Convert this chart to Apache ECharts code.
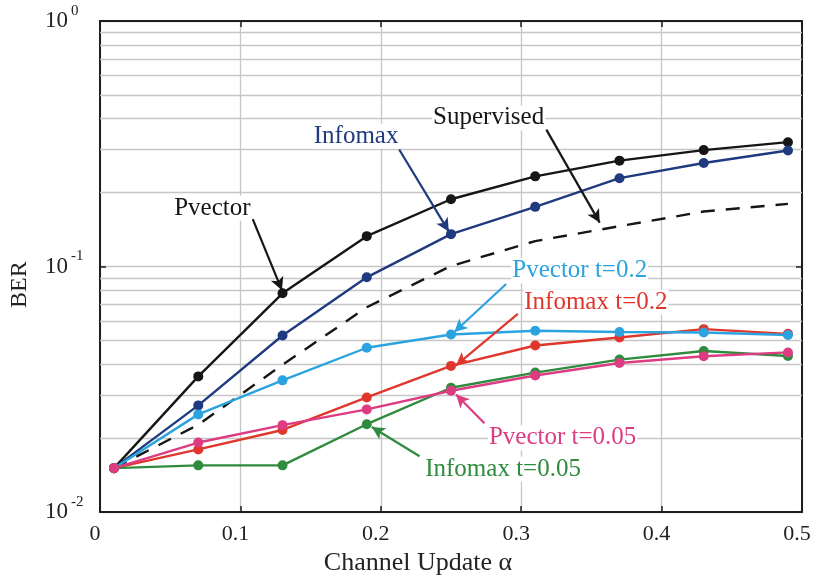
<!DOCTYPE html>
<html>
<head>
<meta charset="utf-8">
<script src="https://cdn.jsdelivr.net/npm/echarts@6/dist/echarts.min.js"></script>
<style>
html,body{margin:0;padding:0;background:#fff;}
#chart{width:814px;height:581px;}
</style>
</head>
<body>
<div id="chart"></div>
<script>
// ---- data ----
const alphaValues = [0.01, 0.07, 0.13, 0.19, 0.25, 0.31, 0.37, 0.43, 0.49];
const pvector     = [0.0151, 0.0357, 0.0778, 0.133, 0.188, 0.233, 0.270, 0.298, 0.321];
const infomax     = [0.0151, 0.0272, 0.0524, 0.0904, 0.1355, 0.175, 0.229, 0.264, 0.297];
const supervised  = [0.0151, 0.0227, 0.0398, 0.0683, 0.1005, 0.127, 0.146, 0.1675, 0.180];
const pvector02   = [0.0151, 0.0250, 0.0344, 0.0467, 0.0529, 0.0548, 0.0541, 0.0539, 0.0526];
const infomax02   = [0.0151, 0.0180, 0.0216, 0.0293, 0.0394, 0.0477, 0.0514, 0.0556, 0.0532];
const pvector005  = [0.0151, 0.0192, 0.0226, 0.0262, 0.0312, 0.0360, 0.0405, 0.0431, 0.0447];
const infomax005  = [0.0151, 0.0155, 0.0155, 0.0228, 0.0321, 0.0370, 0.0418, 0.0453, 0.0432];
const xTicks = [0, 0.1, 0.2, 0.3, 0.4, 0.5];
const minorGridValues = [0.02,0.03,0.04,0.05,0.06,0.07,0.08,0.09,0.2,0.3,0.4,0.5,0.6,0.7,0.8,0.9];

// annotation labels and arrows (data coordinates)
const labelNames = ['Pvector','Infomax','Supervised','Pvector t=0.2','Infomax t=0.2','Pvector t=0.05','Infomax t=0.05'];
const labelAt    = [[0.080,0.1727],[0.1824,0.339],[0.2768,0.403],[0.3417,0.0961],[0.3532,0.0716],[0.3295,0.0201],[0.2871,0.01494]];
const arrowFrom  = [[0.1088,0.1559],[0.2131,0.2997],[0.3179,0.361],[0.2893,0.0849],[0.2976,0.0642],[0.2738,0.0230],[0.2276,0.01688]];
const arrowTo    = [[0.1296,0.0800],[0.2484,0.139],[0.3559,0.151],[0.2524,0.0541],[0.2536,0.0396],[0.2536,0.0301],[0.1936,0.0222]];

const colors = {
  pvector:'#161616', infomax:'#1f3a7e', supervised:'#161616',
  pvector02:'#2ba3de', infomax02:'#e0372c', pvector005:'#dd3c82', infomax005:'#2f8b3d'
};
const FONT = 'Liberation Serif';

function pairs(ys){ return alphaValues.map((x,i)=>[x, ys[i]]); }

function annot(i, color){
  return {
    markLine: {
      silent:true, z:6, symbol:['none','arrow'], symbolSize:[10,13],
      lineStyle:{color:color, width:2.2, type:'solid'}, label:{show:false},
      data:[[{coord:arrowFrom[i]},{coord:arrowTo[i]}]]
    },
    markPoint: {
      silent:true, z:7, symbol:'circle', symbolSize:0,
      label:{show:true, position:'inside', formatter:labelNames[i], color:color,
        fontFamily:FONT, fontSize:25, backgroundColor:'#fff', padding:[0,1]},
      data:[{coord:labelAt[i]}]
    }
  };
}

function lineSeries(name, ys, color, idx, dashed){
  const s = {
    name, type:'line', data:pairs(ys), z:3,
    symbol: dashed ? 'none' : 'circle', symbolSize:10, showSymbol:!dashed,
    itemStyle:{color:color},
    lineStyle:{color:color, width:2.4, type: dashed ? [14,11] : 'solid'},
    animation:false
  };
  return Object.assign(s, annot(idx, color));
}

const axisLineStyle = {color:'#1e1e1e', width:2};

const option = {
  animation:false,
  grid:{left:100, top:21, right:12, bottom:67},
  xAxis:[{
    type:'value', min:0, max:0.5, interval:0.1, position:'bottom',
    axisLine:{show:true, onZero:false, lineStyle:axisLineStyle},
    axisTick:{show:true, inside:true, length:6, lineStyle:{color:'#1e1e1e', width:1.5}},
    axisLabel:{fontFamily:FONT, fontSize:22, color:'#222', margin:11, padding:[0,10,0,0],
      formatter:v=>{ const t = xTicks.find(k=>Math.abs(k-v)<1e-9); return t===0?'0':(t!==undefined?t.toFixed(1):''); }},
    splitLine:{show:true, lineStyle:{color:'#c6c6c6', width:1.3}},
    name:'Channel Update α', nameLocation:'middle', nameGap:34,
    nameTextStyle:{fontFamily:FONT, fontSize:26, color:'#222', padding:[0,66,0,0]}
  },{
    type:'value', min:0, max:0.5, interval:0.1, position:'top',
    axisLine:{show:true, onZero:false, lineStyle:axisLineStyle},
    axisTick:{show:true, inside:true, length:6, lineStyle:{color:'#1e1e1e', width:1.5}},
    axisLabel:{show:false}, splitLine:{show:false}
  }],
  yAxis:[{
    type:'log', logBase:10, min:0.01, max:1, position:'left',
    axisLine:{show:true, onZero:false, lineStyle:axisLineStyle},
    axisTick:{show:true, inside:true, length:6, lineStyle:{color:'#1e1e1e', width:1.5}},
    axisLabel:{align:'left', margin:55, color:'#222',
      formatter:v=>'{b|10}{s|' + Math.round(Math.log10(v)) + '}',
      rich:{
        b:{fontFamily:FONT, fontSize:23, color:'#222', lineHeight:23, verticalAlign:'middle'},
        s:{fontFamily:FONT, fontSize:15, color:'#222', lineHeight:15, padding:[0,0,20,3], verticalAlign:'middle'}
      }},
    splitLine:{show:true, lineStyle:{color:'#c6c6c6', width:1.3}},
    name:'BER', nameLocation:'middle', nameGap:68, nameRotate:90,
    nameTextStyle:{fontFamily:FONT, fontSize:24, color:'#222', padding:[0,36,0,0]}
  },{
    type:'log', logBase:10, min:0.01, max:1, position:'right',
    axisLine:{show:true, onZero:false, lineStyle:axisLineStyle},
    axisTick:{show:true, inside:true, length:6, lineStyle:{color:'#1e1e1e', width:1.5}},
    axisLabel:{show:false}, splitLine:{show:false}
  }],
  series:[
    {
      name:'minor grid', type:'line', data:[], z:1, silent:true,
      markLine:{silent:true, z:1, symbol:['none','none'], label:{show:false},
        lineStyle:{color:'#c6c6c6', width:1.3, type:'solid'},
        data:minorGridValues.map(v=>({yAxis:v}))}
    },
    lineSeries('Supervised', supervised, colors.supervised, 2, true),
    lineSeries('Pvector', pvector, colors.pvector, 0, false),
    lineSeries('Infomax', infomax, colors.infomax, 1, false),
    lineSeries('Infomax t=0.2', infomax02, colors.infomax02, 4, false),
    lineSeries('Pvector t=0.2', pvector02, colors.pvector02, 3, false),
    lineSeries('Infomax t=0.05', infomax005, colors.infomax005, 6, false),
    lineSeries('Pvector t=0.05', pvector005, colors.pvector005, 5, false)
  ]
};

const chart = echarts.init(document.getElementById('chart'), null, {renderer:'canvas'});
chart.setOption(option);
</script>
</body>
</html>
